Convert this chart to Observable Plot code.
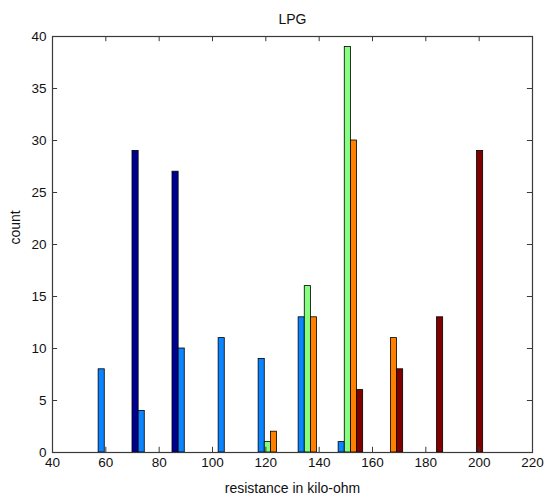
<!DOCTYPE html>
<html>
<head>
<meta charset="utf-8">
<script src="https://cdn.jsdelivr.net/npm/d3@7"></script>
<script src="https://cdn.jsdelivr.net/npm/@observablehq/plot@0.6"></script>
<style>
  html, body { margin: 0; padding: 0; background: #fff; }
  #chart svg { display: block; }
</style>
</head>
<body>
<div id="chart"></div>
<script>
// Bin centers (kilo-ohm) of the grouped histogram
const binCenters = [60.75, 75.75, 90.75, 105.75, 120.75, 135.75, 150.75, 165.75, 180.75, 195.75];
// Series counts per bin (5 series, colored by jet colormap)
const series1 = [0, 29, 27, 0, 0, 0, 0, 0, 0, 0];
const series2 = [8, 4, 10, 11, 9, 13, 1, 0, 0, 0];
const series3 = [0, 0, 0, 0, 1, 16, 39, 0, 0, 0];
const series4 = [0, 0, 0, 0, 2, 13, 30, 11, 0, 0];
const series5 = [0, 0, 0, 0, 0, 0, 6, 8, 13, 29];
const seriesColors = ["#000090", "#0a84ff", "#84ff80", "#ff8000", "#800000"];
const xTicks = [40, 60, 80, 100, 120, 140, 160, 180, 200, 220];
const yTicks = [0, 5, 10, 15, 20, 25, 30, 35, 40];

const allSeries = [series1, series2, series3, series4, series5];
const barW = 2.3; // bar width in data units (grouped bars)
const rows = [];
allSeries.forEach((s, i) => {
  s.forEach((v, j) => {
    if (v > 0) {
      const c = binCenters[j] + (i - 2) * barW;
      rows.push({x1: c - barW / 2, x2: c + barW / 2, count: v, color: seriesColors[i]});
    }
  });
});

const axisColor = "#3a3a3a";
const chart = Plot.plot({
  width: 545,
  height: 497,
  marginLeft: 52,
  marginRight: 13,
  marginTop: 36,
  marginBottom: 45,
  style: {fontFamily: "'Liberation Sans', Arial, sans-serif", fontSize: "13.5px", color: "#111", background: "#fff"},
  x: {domain: [40, 220]},
  y: {domain: [0, 40]},
  marks: [
    Plot.rectY(rows, {x1: "x1", x2: "x2", y1: 0, y2: "count", fill: "color", stroke: "#000", strokeWidth: 0.8}),
    // inward ticks, MATLAB style
    Plot.ruleX(xTicks, {x: d => d, y1: 0, y2: 0.5, stroke: axisColor}),
    Plot.ruleX(xTicks, {x: d => d, y1: 40, y2: 39.5, stroke: axisColor}),
    Plot.ruleY(yTicks, {y: d => d, x1: 40, x2: 41.9, stroke: axisColor}),
    Plot.ruleY(yTicks, {y: d => d, x1: 220, x2: 218.1, stroke: axisColor}),
    Plot.frame({stroke: axisColor, strokeWidth: 1.2}),
    Plot.axisX(xTicks, {tickSize: 0, tickPadding: 5, label: null, fontSize: 13.5}),
    Plot.axisY(yTicks, {tickSize: 0, tickPadding: 6, label: null, fontSize: 13.5}),
    Plot.text(["LPG"], {frameAnchor: "top", dy: -13, lineAnchor: "bottom", fontSize: 14}),
    Plot.text(["resistance in kilo-ohm"], {frameAnchor: "bottom", dy: 40, lineAnchor: "bottom", fontSize: 14}),
    Plot.text(["count"], {frameAnchor: "left", dx: -37, rotate: -90, fontSize: 14})
  ]
});
document.getElementById("chart").appendChild(chart);
</script>
</body>
</html>
